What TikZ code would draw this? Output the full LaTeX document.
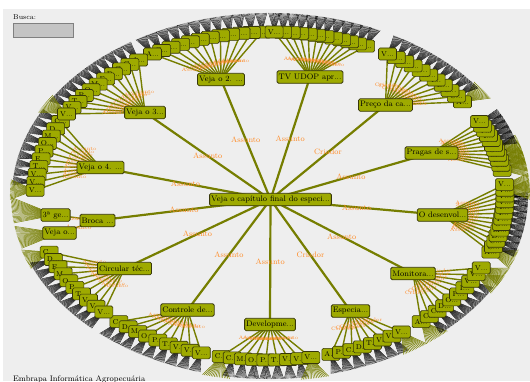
\documentclass[tikz,border=0pt]{standalone}
\usepackage{fontspec}
\pgfdeclarelayer{bg}
\pgfdeclarelayer{fan}
\pgfdeclarelayer{edge}
\pgfsetlayers{bg,fan,edge,main}
\definecolor{bgc}{RGB}{238,238,238}
\definecolor{boxc}{RGB}{158,170,0}
\definecolor{boxd}{RGB}{55,55,10}
\definecolor{edgec}{RGB}{118,126,0}
\definecolor{labc}{RGB}{255,140,40}
\definecolor{fieldc}{RGB}{196,196,196}
\tikzset{
  parent/.style={draw=boxd, fill=boxc, rounded corners=1.5pt, line width=0.8pt,
    inner sep=1.6pt, minimum height=12.5pt, font=\fontsize{8}{9}\selectfont},
  kid/.style={draw=boxd, fill=boxc, rounded corners=1.5pt, line width=0.6pt,
    inner sep=1pt, minimum height=12pt, minimum width=18pt, font=\fontsize{7}{8}\selectfont},
  mainedge/.style={draw=edgec, line width=2.2pt},
  kidedge/.style={draw=edgec, line width=1.4pt},
  elab/.style={text=labc, inner sep=0pt, font=\fontsize{7.8}{8}\selectfont},
  mini/.style={text=labc, inner sep=0pt, font=\fontsize{5}{5}\selectfont},
  fanb/.style={draw=black, line width=0.35pt},
  fano/.style={draw=edgec, line width=0.5pt}
}
% #1 parent, #2 start angle, #3 end angle, #4 count, #5 list label/olive, #6 mini label
\newcommand\kidfan[6]{%
  \foreach \lab/\fc [count=\k] in {#5} {
    \pgfmathsetmacro\ang{(#2)+((#3)-(#2))*(\k-1)/(#4-1)}
    \node[kid] (#1k\k) at ({270+235*cos(\ang)},{196-164*sin(\ang)}) {\lab...};
    \begin{pgfonlayer}{fan}
      \ifnum\fc=1
        \foreach \j in {1,...,17} {
          \pgfmathsetmacro\a{\ang+(\j-9)*0.38}
          \coordinate (#1k\k g\j) at ({270+260*cos(\a)},{196-185*sin(\a)});
          \draw[fano] (#1k\k.center) -- (#1k\k g\j);
        }
      \else
        \foreach \j in {1,...,11} {
          \pgfmathsetmacro\a{\ang+(\j-6)*0.26}
          \coordinate (#1k\k g\j) at ({270+258*cos(\a)},{196-183*sin(\a)});
          \draw[fanb] (#1k\k.center) -- (#1k\k g\j);
        }
      \fi
    \end{pgfonlayer}
    \begin{pgfonlayer}{edge}
      \draw[kidedge] (#1.center) -- (#1k\k.center) node[mini,pos=0.4]{#6};
    \end{pgfonlayer}
  }
}
\begin{document}
\begin{tikzpicture}[x=1pt,y=-1pt]
\useasboundingbox (0,0) rectangle (530,381);
\begin{pgfonlayer}{bg}
  \fill[white] (0,0) rectangle (530,381);
  \fill[bgc] (3,9) rectangle (530,381);
\end{pgfonlayer}

% search field
\node[anchor=base west, inner sep=0pt, font=\fontsize{7}{8}\selectfont] (busca) at (13,19) {Busca:};
\node[draw=gray, fill=fieldc, line width=0.8pt, anchor=north west, minimum width=60pt, minimum height=14pt, inner sep=0pt] (campo) at (13,23) {};

% footer
\node[anchor=base west, inner sep=0pt, font=\fontsize{8}{9}\selectfont] (rodape) at (13,381.5) {Embrapa Informática Agropecuária};

% centre and first level
\node[parent] (c0) at (270.5,199.5) {Veja o capítulo final do especi...};
\node[parent] (p1) at (221,79.5) {Veja o 2. ...};
\node[parent] (p2) at (310,77) {TV UDOP apr...};
\node[parent] (p3) at (385.5,105) {Preço da ca...};
\node[parent] (p4) at (431.5,153) {Pragas de s...};
\node[parent] (p5) at (442.5,215) {O desenvol...};
\node[parent] (p6) at (413,273.5) {Monitora...};
\node[parent] (p7) at (350.5,311) {Especia...};
\node[parent] (p8) at (270,324.5) {Developme...};
\node[parent] (p9) at (187.5,310) {Controle de...};
\node[parent] (p10) at (124.5,268.5) {Circular téc...};
\node[parent] (p11) at (97.5,220.5) {Broca ...};
\node[parent] (p12) at (100.5,167.5) {Veja o 4. ...};
\node[parent] (p13) at (145,112.5) {Veja o 3...};

\begin{pgfonlayer}{edge}
  \draw[mainedge] (c0.center) -- (p1.center) node[elab,midway]{Assunto};
  \draw[mainedge] (c0.center) -- (p2.center) node[elab,midway]{Assunto};
  \draw[mainedge] (c0.center) -- (p3.center) node[elab,midway]{Criador};
  \draw[mainedge] (c0.center) -- (p4.center) node[elab,midway]{Assunto};
  \draw[mainedge] (c0.center) -- (p5.center) node[elab,midway]{Assunto};
  \draw[mainedge] (c0.center) -- (p6.center) node[elab,midway]{Assunto};
  \draw[mainedge] (c0.center) -- (p7.center) node[elab,midway]{Criador};
  \draw[mainedge] (c0.center) -- (p8.center) node[elab,midway]{Assunto};
  \draw[mainedge] (c0.center) -- (p9.center) node[elab,midway]{Assunto};
  \draw[mainedge] (c0.center) -- (p10.center) node[elab,midway]{Assunto};
  \draw[mainedge] (c0.center) -- (p11.center) node[elab,midway]{Assunto};
  \draw[mainedge] (c0.center) -- (p12.center) node[elab,midway]{Assunto};
  \draw[mainedge] (c0.center) -- (p13.center) node[elab,midway]{Assunto};
\end{pgfonlayer}

% second level
\kidfan{p1}{92}{120}{12}{V/0,V/0,V/0,T/0,P/0,O/0,M/0,I/0,D/0,C/0,C/0,A/0}{Assunto}
\kidfan{p2}{66}{89}{12}{A/0,C/0,C/0,D/0,E/0,I/0,M/0,O/0,P/0,T/0,V/0,V/0}{Assunto}
\kidfan{p3}{35}{60}{11}{A/1,C/0,C/0,D/0,I/0,M/0,O/0,P/0,T/0,V/0,V/0}{Criador}
\kidfan{p4}{9}{27}{11}{C/1,C/1,D/1,M/1,O/1,P/0,T/0,I/0,V/0,V/0,V/0}{Assunto}
\kidfan{p5}{-20}{4}{13}{A/1,C/0,C/0,D/0,M/0,O/0,P/0,I/0,I/0,V/0,V/0,V/1,V/1}{Assunto}
\kidfan{p6}{-50}{-26}{10}{A/1,C/0,C/0,D/0,O/0,P/0,I/0,V/0,V/1,V/1}{Criador}
\kidfan{p7}{-75}{-56}{8}{A/0,P/0,C/0,D/0,T/0,V/0,V/0,V/1}{Criador}
\kidfan{p8}{-102}{-80}{9}{C/1,C/0,M/0,O/0,P/0,T/0,V/0,V/0,V/1}{Assunto}
\kidfan{p9}{-130}{-107}{9}{C/0,D/0,M/0,O/0,P/0,T/0,V/0,V/0,V/0}{Assunto}
\kidfan{p10}{-160}{-135}{10}{C/1,D/0,E/0,M/0,O/0,P/0,T/0,V/0,V/0,V/0}{Assunto}
\kidfan{p12}{153}{178}{10}{C/0,D/0,M/0,O/0,P/0,E/0,T/0,V/0,V/0,V/1}{Assunto}
\kidfan{p13}{124}{150}{11}{A/0,C/0,C/0,D/0,E/0,M/0,O/0,P/0,T/0,V/0,V/1}{Assunto}

% Broca children
\node[parent] (p11k1) at (55.5,215) {3ª ge...};
\node[parent] (p11k2) at (59.5,233) {Veja o...};
\begin{pgfonlayer}{fan}
  \foreach \j in {1,...,21} {
    \pgfmathsetmacro\a{184.4+(\j-11)*0.4}
    \coordinate (p11k1g\j) at ({270+259*cos(\a)},{196-184*sin(\a)});
    \draw[fano] (p11k1.center) -- (p11k1g\j);
    \pgfmathsetmacro\b{193+(\j-11)*0.35}
    \coordinate (p11k2g\j) at ({270+259*cos(\b)},{196-184*sin(\b)});
    \draw[fano] (p11k2.center) -- (p11k2g\j);
  }
\end{pgfonlayer}
\begin{pgfonlayer}{edge}
  \draw[kidedge] (p11.center) -- (p11k1.center) node[elab,midway,font=\fontsize{6.5}{7}\selectfont]{Assunto};
  \draw[kidedge] (p11.center) -- (p11k2.center) node[elab,midway,font=\fontsize{6.5}{7}\selectfont]{Assunto};
\end{pgfonlayer}
\end{tikzpicture}
\end{document}
